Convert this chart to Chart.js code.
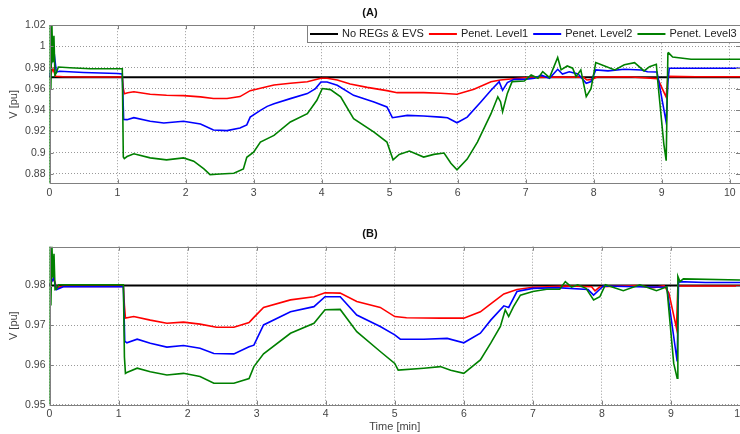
<!DOCTYPE html>
<html>
<head>
<meta charset="utf-8">
<script src="https://cdn.jsdelivr.net/npm/chart.js@4/dist/chart.umd.min.js"></script>
<style>
  body { margin: 0; background: #fff; }
  #wrap { position: relative; width: 740px; height: 434px; }
  #chartA { position: absolute; left: 0; top: 0; }
  #chartB { position: absolute; left: 0; top: 200px; }
</style>
</head>
<body>
<div id="wrap">
  <canvas id="chartA" width="740" height="200"></canvas>
  <canvas id="chartB" width="740" height="234"></canvas>
</div>
<script>
// series names
const seriesNames = ['No REGs & EVS', 'Penet. Level1', 'Penet. Level2', 'Penet. Level3'];
const seriesColors = ['#000000', '#ff0000', '#0000ff', '#008000'];

// axis ticks
const timeTicks = [0, 1, 2, 3, 4, 5, 6, 7, 8, 9, 10];
const voltTicksA = [0.88, 0.9, 0.92, 0.94, 0.96, 0.98, 1, 1.02];
const voltTicksB = [0.95, 0.96, 0.97, 0.98];

// (A)  [time min, V pu]
const baseA = [[0, 0.971], [10.15, 0.971]];
const level1A = [[0,0.971],[0.02,0.974],[0.05,0.979],[0.09,0.972],[0.2,0.9715],[0.6,0.9712],[1.0,0.9712],[1.07,0.9715],[1.085,0.9604],[1.1,0.9555],
  [1.15,0.9565],[1.24,0.9574],[1.48,0.955],[1.72,0.954],[1.97,0.9537],[2.22,0.9525],[2.41,0.951],[2.61,0.951],[2.8,0.9528],[2.95,0.9584],
  [3.1,0.9606],[3.3,0.9637],[3.54,0.9653],[3.79,0.9668],[3.99,0.97],[4.08,0.97],[4.23,0.9684],[4.42,0.9647],[4.67,0.9615],[4.96,0.9584],
  [5.11,0.9565],[5.5,0.9565],[5.75,0.9559],[5.99,0.955],[6.24,0.9597],[6.49,0.9668],[6.63,0.9684],[6.78,0.9693],[6.98,0.9706],[7.5,0.9712],
  [7.85,0.971],[7.9,0.9684],[7.97,0.969],[8.05,0.9712],[8.5,0.9715],[8.94,0.9697],[9.065,0.9523],[9.09,0.9718],[9.5,0.9715],[10.15,0.9715]];
const level2A = [[0,0.971],[0.03,0.985],[0.056,1.001],[0.1,0.976],[0.15,0.9766],[0.5,0.9755],[1.0,0.9745],[1.07,0.974],[1.09,0.9312],[1.14,0.9311],
  [1.24,0.933],[1.48,0.9296],[1.68,0.928],[1.97,0.9296],[2.22,0.927],[2.41,0.9214],[2.61,0.9208],[2.8,0.9233],[2.9,0.9262],[2.95,0.9335],
  [3.1,0.9398],[3.2,0.9436],[3.3,0.9461],[3.54,0.9509],[3.79,0.9556],[3.91,0.9603],[3.99,0.9666],[4.08,0.9666],[4.23,0.9635],[4.47,0.954],
  [4.77,0.9477],[4.96,0.943],[5.04,0.9329],[5.26,0.9351],[5.5,0.9345],[5.75,0.9335],[5.85,0.9329],[5.99,0.9282],[6.14,0.9335],[6.34,0.9477],
  [6.49,0.9587],[6.61,0.9669],[6.66,0.9587],[6.73,0.966],[6.83,0.969],[6.98,0.969],[7.13,0.97],[7.23,0.973],[7.35,0.97],[7.47,0.9785],
  [7.54,0.974],[7.64,0.9762],[7.77,0.974],[7.89,0.9654],[7.96,0.9669],[8.03,0.9779],[8.21,0.977],[8.45,0.9785],[8.7,0.9779],[8.79,0.9762],
  [8.93,0.976],[8.97,0.962],[9.065,0.9287],[9.09,0.9666],[9.11,0.9795],[9.5,0.9795],[10.15,0.9795]];
const level3A = [[0,0.87],[0.005,1.02],[0.02,0.96],[0.035,1.02],[0.05,0.985],[0.065,1.01],[0.08,0.973],[0.1,0.975],[0.13,0.9806],[0.3,0.98],
  [0.6,0.979],[1.0,0.979],[1.07,0.979],[1.085,0.896],[1.1,0.8945],[1.14,0.8964],[1.24,0.899],[1.48,0.8951],[1.72,0.8932],[1.97,0.8951],
  [2.12,0.892],[2.27,0.8847],[2.36,0.8794],[2.51,0.88],[2.71,0.8807],[2.85,0.8847],[2.9,0.8957],[3.0,0.9005],[3.1,0.91],[3.3,0.9163],
  [3.54,0.9289],[3.79,0.9367],[3.93,0.9493],[4.01,0.9604],[4.13,0.9594],[4.28,0.9525],[4.47,0.932],[4.77,0.9194],[4.96,0.91],[5.05,0.8933],
  [5.14,0.8984],[5.29,0.9015],[5.5,0.8959],[5.65,0.8984],[5.8,0.8997],[5.9,0.89],[5.99,0.8838],[6.14,0.894],[6.29,0.91],[6.49,0.9367],
  [6.59,0.9526],[6.63,0.948],[6.66,0.9385],[6.73,0.9558],[6.8,0.9669],[6.98,0.9675],[7.08,0.9732],[7.18,0.97],[7.25,0.9763],[7.35,0.9707],
  [7.47,0.9896],[7.52,0.978],[7.61,0.9816],[7.69,0.9795],[7.74,0.9716],[7.81,0.9779],[7.89,0.9528],[7.96,0.9603],[8.03,0.9848],[8.16,0.9816],
  [8.31,0.9779],[8.45,0.9827],[8.6,0.9848],[8.74,0.977],[8.82,0.981],[8.92,0.9832],[8.94,0.968],[9.03,0.9083],[9.065,0.8925],[9.09,0.9937],
  [9.1,0.994],[9.16,0.99],[9.43,0.988],[10.15,0.988]];

// (B)
const baseB = [[0, 0.98], [10, 0.98]];
const level1B = [[0,0.98],[0.03,0.981],[0.06,0.9819],[0.1,0.9795],[0.2,0.9798],[1.0,0.9798],[1.07,0.9798],[1.085,0.975],[1.1,0.9718],[1.22,0.9722],
  [1.46,0.9713],[1.7,0.9705],[1.94,0.9708],[2.18,0.9703],[2.42,0.9695],[2.67,0.9695],[2.89,0.9707],[2.96,0.972],[3.1,0.9745],[3.49,0.9764],
  [3.83,0.9772],[3.99,0.9782],[4.21,0.9781],[4.45,0.976],[4.79,0.9745],[5.0,0.9722],[5.17,0.9719],[5.66,0.9718],[6.0,0.9718],[6.24,0.9734],
  [6.39,0.9754],[6.58,0.9779],[6.77,0.979],[7.0,0.9796],[7.5,0.9799],[7.85,0.9797],[7.9,0.9787],[7.97,0.9797],[8.5,0.98],[8.75,0.9795],
  [8.9,0.98],[8.97,0.9781],[9.08,0.9693],[9.1,0.9799],[9.5,0.9799],[10,0.9799]];
const level2B = [[0,0.98],[0.03,0.981],[0.06,0.9819],[0.1,0.979],[0.2,0.9797],[1.0,0.9797],[1.07,0.9797],[1.09,0.966],[1.12,0.9656],[1.27,0.9665],
  [1.46,0.9655],[1.7,0.9645],[1.94,0.9649],[2.18,0.9642],[2.38,0.9629],[2.67,0.9628],[2.89,0.9646],[2.96,0.965],[3.1,0.9701],[3.49,0.9734],
  [3.83,0.9747],[3.99,0.9772],[4.21,0.9772],[4.45,0.9726],[4.79,0.9697],[5.0,0.9676],[5.08,0.9665],[5.42,0.9665],[5.76,0.9667],[6.0,0.9656],
  [6.24,0.968],[6.39,0.9713],[6.58,0.9749],[6.65,0.9745],[6.77,0.9785],[7.0,0.9793],[7.35,0.9795],[7.8,0.979],[7.88,0.9776],[8.02,0.9799],
  [8.5,0.9797],[8.94,0.9796],[9.09,0.9609],[9.11,0.981],[9.5,0.9808],[10,0.9808]];
const level3B = [[0,0.95],[0.005,0.99],[0.02,0.975],[0.035,0.99],[0.05,0.982],[0.065,0.988],[0.08,0.979],[0.1,0.9791],[0.13,0.9802],[0.5,0.9802],
  [1.0,0.9802],[1.07,0.9802],[1.085,0.962],[1.1,0.9579],[1.12,0.9581],[1.27,0.9592],[1.46,0.9583],[1.7,0.9575],[1.94,0.9579],[2.18,0.9571],
  [2.38,0.9554],[2.67,0.9554],[2.89,0.9566],[2.96,0.9596],[3.1,0.9628],[3.49,0.968],[3.83,0.9705],[3.99,0.9739],[4.21,0.974],[4.45,0.9684],
  [4.79,0.9634],[5.0,0.9604],[5.05,0.9587],[5.42,0.9592],[5.66,0.9596],[5.81,0.9587],[6.0,0.9579],[6.24,0.9613],[6.39,0.9655],[6.53,0.9697],
  [6.6,0.9739],[6.65,0.9722],[6.72,0.9747],[6.82,0.9776],[7.0,0.9785],[7.2,0.9791],[7.39,0.9791],[7.47,0.981],[7.56,0.9796],[7.65,0.9802],
  [7.77,0.9793],[7.88,0.9764],[7.97,0.9772],[8.05,0.9802],[8.31,0.9787],[8.55,0.9802],[8.79,0.9787],[8.94,0.9797],[8.97,0.9739],[9.04,0.9604],
  [9.09,0.9567],[9.1,0.9823],[9.13,0.981],[9.18,0.9817],[10,0.9814]];

Chart.defaults.font.family = '"Liberation Sans", Arial, Helvetica, sans-serif';
Chart.defaults.color = '#444';

function fmt(v) {
    return String(+Number(v).toFixed(4));
}

// matlab style box round the axes, ticks pointing in
const axesBox = {
    id: 'axesBox',
    afterDatasetsDraw(chart) {
        const {ctx, chartArea: a, scales: {x, y}} = chart;
        ctx.save();
        ctx.strokeStyle = '#808080';
        ctx.lineWidth = 1;
        ctx.beginPath();
        x.ticks.forEach(t => {
            const px = Math.round(x.getPixelForValue(t.value)) + 0.5;
            ctx.moveTo(px, a.bottom); ctx.lineTo(px, a.bottom - 4);
            ctx.moveTo(px, a.top); ctx.lineTo(px, a.top + 4);
        });
        y.ticks.forEach(t => {
            const py = Math.round(y.getPixelForValue(t.value)) + 0.5;
            ctx.moveTo(a.left, py); ctx.lineTo(a.left + 4, py);
            ctx.moveTo(a.right, py); ctx.lineTo(a.right - 4, py);
        });
        ctx.stroke();
        ctx.strokeRect(Math.round(a.left) + 0.5, Math.round(a.top) + 0.5,
            Math.round(a.right - a.left), Math.round(a.bottom - a.top));
        ctx.restore();
    }
};

// legend box inside the top right corner
const boxLegend = {
    id: 'boxLegend',
    afterDraw(chart) {
        const {ctx, chartArea: a} = chart;
        ctx.save();
        ctx.font = '11px "Liberation Sans", Arial, sans-serif';
        const items = chart.data.datasets.map(d => ({
            label: d.label, color: d.borderColor, w: ctx.measureText(d.label).width
        }));
        const lineLen = 28, gap = 4, sep = 5, pad = 3, h = 17;
        let total = pad * 2 + sep * (items.length - 1);
        items.forEach(it => { total += lineLen + gap + it.w; });
        const left = Math.round(a.right - total);
        const top = Math.round(a.top);
        ctx.fillStyle = '#fff';
        ctx.fillRect(left, top, total, h);
        ctx.strokeStyle = '#808080';
        ctx.lineWidth = 1;
        ctx.strokeRect(left + 0.5, top + 0.5, Math.round(a.right) - left, h);
        let xx = left + pad;
        const cy = top + h / 2 + 0.5;
        ctx.textBaseline = 'middle';
        items.forEach(it => {
            ctx.strokeStyle = it.color;
            ctx.lineWidth = 2;
            ctx.beginPath();
            ctx.moveTo(xx, cy); ctx.lineTo(xx + lineLen, cy);
            ctx.stroke();
            xx += lineLen + gap;
            ctx.fillStyle = '#222';
            ctx.fillText(it.label, xx, cy);
            xx += it.w + sep;
        });
        ctx.restore();
    }
};

function makeSets(series) {
    return series.map((pts, i) => ({
        label: seriesNames[i],
        data: pts.map(p => ({x: p[0], y: p[1]})),
        borderColor: seriesColors[i],
        borderWidth: i === 0 ? 2 : 1.6,
        pointRadius: 0,
        tension: 0,
        order: series.length - 1 - i
    }));
}

function VoltPlot(canvasID, title, series, xMax, yMin, yMax, yTicks, titlePad, xHeight, xTitle) {
    const ctx = document.getElementById(canvasID).getContext('2d');
    const chart = new Chart(ctx, {
        type: 'line',
        data: { datasets: makeSets(series) },
        options: {
            responsive: false,
            animation: false,
            layout: { padding: 0 },
            plugins: {
                legend: { display: false },
                tooltip: { enabled: false },
                title: {
                    display: true, text: title, color: '#111',
                    font: { size: 11, weight: 'bold' }, padding: titlePad
                }
            },
            scales: {
                x: {
                    type: 'linear', min: 0, max: xMax,
                    afterBuildTicks: s => { s.ticks = timeTicks.map(v => ({value: v})); },
                    afterFit: s => { s.height = xHeight; s.paddingLeft = 0; s.paddingRight = 0; },
                    ticks: { font: { size: 10.5 }, padding: 3, maxRotation: 0, autoSkip: false, callback: fmt },
                    grid: { color: '#999', drawTicks: false },
                    border: { display: false, dash: [1, 2] },
                    title: { display: !!xTitle, text: xTitle, font: { size: 11 }, padding: { top: 0, bottom: 0 } }
                },
                y: {
                    type: 'linear', min: yMin, max: yMax,
                    afterBuildTicks: s => { s.ticks = yTicks.map(v => ({value: v})); },
                    afterFit: s => { s.width = 49.5; s.paddingTop = 0; s.paddingBottom = 0; },
                    ticks: { font: { size: 10.5 }, padding: 4, autoSkip: false, callback: fmt },
                    grid: { color: '#999', drawTicks: false },
                    border: { display: false, dash: [1, 2] },
                    title: { display: true, text: 'V [pu]', font: { size: 11 }, padding: { top: 7, bottom: 0 } }
                }
            }
        },
        plugins: title === '(A)' ? [axesBox, boxLegend] : [axesBox]
    });
    return chart;
}

VoltPlot('chartA', '(A)', [baseA, level1A, level2A, level3A], 10.15, 0.871, 1.02, voltTicksA,
    { top: 6, bottom: 6 }, 16.5, '');
VoltPlot('chartB', '(B)', [baseB, level1B, level2B, level3B], 10, 0.95, 0.9898, voltTicksB,
    { top: 27.5, bottom: 6 }, 29.3, 'Time [min]');
</script>
</body>
</html>
